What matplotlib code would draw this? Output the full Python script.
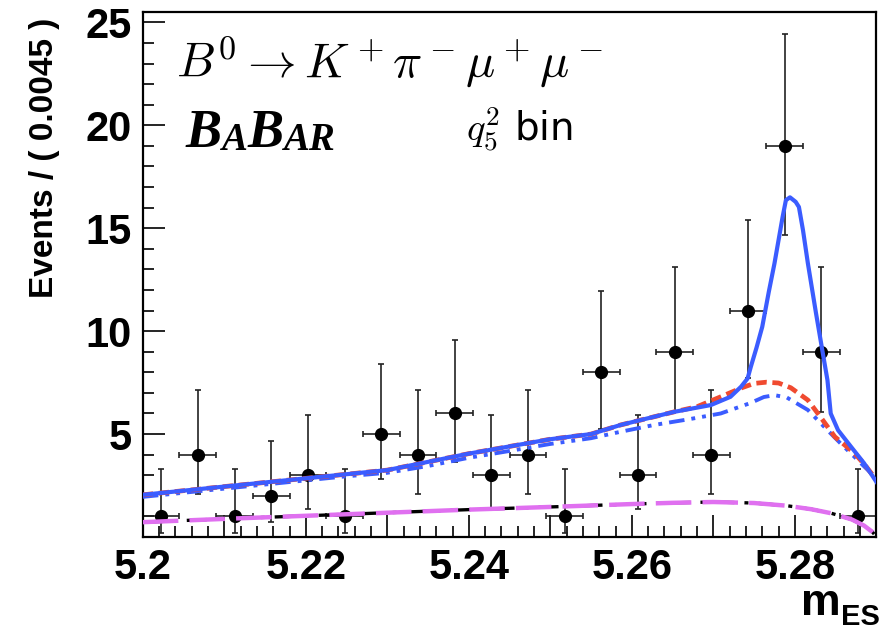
import matplotlib.pyplot as plt
from matplotlib.ticker import MultipleLocator, FuncFormatter

plt.rcParams['mathtext.fontset'] = 'cm'

# data points (bin width 0.0045)
bin_centers = [5.20225, 5.20675, 5.21125, 5.21575, 5.22025, 5.22475, 5.22925,
               5.23375, 5.23825, 5.24275, 5.24725, 5.25175, 5.25625, 5.26075,
               5.26525, 5.26975, 5.27425, 5.27875, 5.28325, 5.28775]
events = [1, 4, 1, 2, 3, 1, 5, 4, 6, 3, 4, 1, 8, 3, 9, 4, 11, 19, 9, 1]
err_low = [0.83, 1.91, 0.83, 1.29, 1.63, 0.83, 2.16, 1.91, 2.38, 1.63,
           1.91, 0.83, 2.77, 1.63, 2.94, 1.91, 3.27, 4.32, 2.94, 0.83]
err_high = [2.30, 3.16, 2.30, 2.64, 2.92, 2.30, 3.38, 3.16, 3.58, 2.92,
            3.16, 2.30, 3.95, 2.92, 4.11, 3.16, 4.42, 5.44, 4.11, 2.30]
bin_half = 0.00225

# total fit (blue solid)
total_x = [5.200, 5.205, 5.210, 5.215, 5.220, 5.225, 5.230, 5.235, 5.240, 5.245,
           5.250, 5.255, 5.2586, 5.2652, 5.2697, 5.2721, 5.2734, 5.2742, 5.2746,
           5.2753, 5.2760, 5.2768, 5.2775, 5.2785, 5.2789, 5.2794, 5.2801,
           5.2805, 5.2810, 5.2816, 5.2826, 5.2834, 5.2840, 5.2844, 5.2853,
           5.2869, 5.2885, 5.2900]
total_y = [2.05, 2.25, 2.45, 2.65, 2.85, 3.05, 3.25, 3.65, 4.05, 4.40,
           4.75, 5.00, 5.44, 6.08, 6.41, 6.81, 7.30, 7.70, 8.27,
           9.20, 10.21, 11.90, 13.29, 15.55, 16.36, 16.50, 16.28,
           16.03, 14.90, 13.29, 10.86, 9.00, 7.62, 6.00, 5.19,
           4.38, 3.58, 2.68]

# background sum (red dashed)
bkg_x = [5.200, 5.205, 5.210, 5.215, 5.220, 5.225, 5.230, 5.235, 5.240, 5.245,
         5.250, 5.255, 5.2586, 5.2652, 5.2680, 5.2709, 5.2735, 5.2750, 5.2765,
         5.2780, 5.2795, 5.2816, 5.2832, 5.2849, 5.2873, 5.2887, 5.2900]
bkg_y = [2.05, 2.25, 2.45, 2.65, 2.85, 3.05, 3.25, 3.65, 4.05, 4.40,
         4.75, 5.00, 5.44, 6.08, 6.33, 6.81, 7.25, 7.46, 7.52,
         7.48, 7.25, 6.65, 5.80, 4.87, 4.08, 3.45, 2.77]

# peaking background (blue dash-dot)
peak_x = [5.200, 5.205, 5.210, 5.215, 5.220, 5.225, 5.230, 5.235, 5.240, 5.245,
          5.250, 5.255, 5.2586, 5.2627, 5.2670, 5.2709, 5.2745, 5.2762, 5.2775,
          5.2790, 5.2816, 5.2840, 5.2856, 5.2873, 5.2887, 5.2900]
peak_y = [1.95, 2.15, 2.35, 2.55, 2.75, 2.95, 3.12, 3.45, 3.85, 4.18,
          4.52, 4.80, 5.11, 5.44, 5.72, 6.00, 6.50, 6.80, 6.89,
          6.78, 6.17, 5.19, 4.55, 3.90, 3.35, 2.85]

# combinatorial background (magenta / black)
comb_x = [5.200, 5.210, 5.220, 5.230, 5.240, 5.250, 5.260, 5.265, 5.270, 5.275,
          5.279, 5.282, 5.2845, 5.287, 5.2885, 5.2895, 5.2900]
comb_y = [0.72, 0.88, 1.03, 1.18, 1.33, 1.46, 1.60, 1.66, 1.70, 1.65,
          1.52, 1.35, 1.15, 0.85, 0.55, 0.25, 0.02]

fig = plt.figure(figsize=(8.87, 6.34), dpi=100)
ax = fig.add_axes([0.161, 0.153, 0.827, 0.828])

ax.errorbar(bin_centers, events, yerr=[err_low, err_high], xerr=bin_half,
            fmt='o', color='black', ecolor='#222222', ms=8.5, elinewidth=1.2,
            capsize=2.5, capthick=1.2, zorder=2)

ax.plot(comb_x, comb_y, color='black', lw=2.4, ls=(0, (6, 3, 1.2, 3)), zorder=3)
ax.plot(comb_x, comb_y, color='#e070f0', lw=3.2, ls=(0, (8, 2.5)), zorder=4)
ax.plot(peak_x, peak_y, color='#3b5cff', lw=2.8, ls=(0, (4, 1.8, 1, 1.8, 1, 1.8)), zorder=4)
ax.plot(bkg_x, bkg_y, color='#f04a30', lw=3.4, ls=(0, (2.2, 1.2)), zorder=5)
ax.plot(total_x, total_y, color='#3b5cff', lw=3.0, zorder=6)

ax.set_xlim(5.2, 5.29)
ax.set_ylim(0, 25.5)

for s in ax.spines.values():
    s.set_linewidth(1.6)

ax.xaxis.set_major_locator(MultipleLocator(0.01))
ax.xaxis.set_minor_locator(MultipleLocator(0.002))
ax.xaxis.set_major_formatter(FuncFormatter(
    lambda v, p: f"{v:g}" if round(v * 100) % 2 == 0 else ""))
ax.yaxis.set_major_locator(MultipleLocator(5))
ax.yaxis.set_minor_locator(MultipleLocator(1))
ax.yaxis.set_major_formatter(FuncFormatter(lambda v, p: f"{v:g}" if v > 0 else ""))

ax.tick_params(which='both', direction='in', top=False, right=False, width=1.2)
ax.tick_params(which='major', length=16, labelsize=30, pad=8)
ax.tick_params(which='minor', length=8)
for lab in ax.get_xticklabels() + ax.get_yticklabels():
    lab.set_fontfamily('Liberation Sans')
    lab.set_fontweight('bold')

ax.set_ylabel("Events / ( 0.0045 )", fontsize=24, fontweight='bold',
              family='Liberation Sans')
ax.yaxis.set_label_coords(-0.134, 0.99)
ax.yaxis.label.set_ha('right')
ax.yaxis.label.set_va('center')

# x label m_ES
m = fig.text(0.903, 0.015, "m", fontsize=32, fontweight='bold',
             family='Liberation Sans', va='bottom')
ax.annotate("ES", xy=(1, 0), xycoords=m, xytext=(0, -5), textcoords='offset points',
            fontsize=21, fontweight='bold', family='Liberation Sans', va='bottom',
            annotation_clip=False)

# decay label
ax.text(0.045, 0.852, r"$B^0 \rightarrow K^+\pi^-\mu^+\mu^-$", transform=ax.transAxes,
        fontsize=35, va='bottom')

# BaBar logo
logo_kw = dict(family='Liberation Serif', fontweight='bold', style='italic')
t = ax.text(0.058, 0.72, "B", transform=ax.transAxes, fontsize=39, va='bottom', **logo_kw)
t = ax.annotate("A", xy=(1, 0), xycoords=t, fontsize=28, va='bottom', **logo_kw)
t = ax.annotate("B", xy=(1, 0), xycoords=t, fontsize=39, va='bottom', **logo_kw)
t = ax.annotate("AR", xy=(1, 0), xycoords=t, fontsize=28, va='bottom', **logo_kw)

ax.text(0.44, 0.73, r"$q_5^2$ bin", transform=ax.transAxes, fontsize=28, va='bottom')

fig.savefig("out.png", dpi=100)
